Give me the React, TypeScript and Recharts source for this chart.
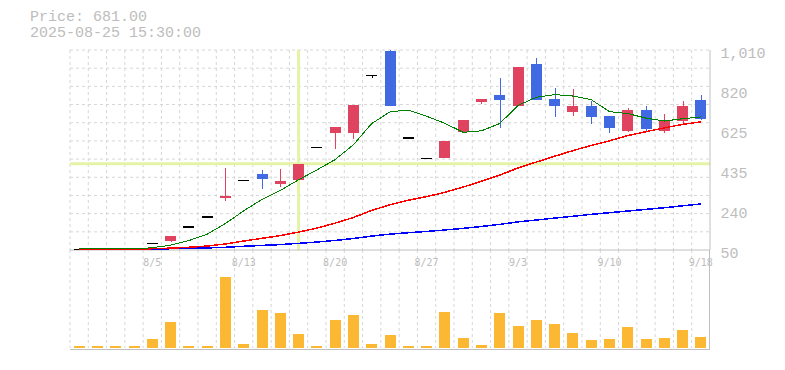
import React from 'react';
import {
  ComposedChart,
  Bar,
  Line,
  XAxis,
  YAxis,
  CartesianGrid,
  ReferenceLine,
} from 'recharts';

// ---- data ----
const dates = ['7/30', '7/31', '8/1', '8/4', '8/5', '8/6', '8/7', '8/8', '8/12', '8/13', '8/14', '8/15', '8/18', '8/19', '8/20', '8/21', '8/22', '8/25', '8/26', '8/27', '8/28', '8/29', '9/1', '9/2', '9/3', '9/4', '9/5', '9/8', '9/9', '9/10', '9/11', '9/12', '9/16', '9/17', '9/18'];
const opens = [55, 55, 55, 54, 84, 95, 164, 213, 302, 388, 413, 365, 384, 545, 610, 610, 892, 1004, 592, 492, 490, 618, 760, 792, 740, 941, 773, 711, 739, 691, 623, 724, 623, 668, 768];
const highs = [55, 55, 55, 55, 84, 115, 164, 213, 445, 388, 435, 440, 464, 545, 642, 744, 892, 1010, 592, 492, 575, 676, 773, 875, 927, 970, 826, 821, 764, 691, 734, 740, 702, 766, 792];
const lows = [55, 55, 55, 54, 84, 90, 164, 213, 287, 388, 345, 352, 384, 545, 533, 581, 875, 740, 592, 492, 490, 610, 753, 634, 740, 769, 687, 692, 655, 610, 615, 615, 612, 657, 676];
const closes = [55, 55, 55, 55, 84, 115, 164, 213, 310, 388, 389, 382, 464, 545, 642, 744, 892, 740, 592, 492, 575, 676, 773, 769, 927, 769, 740, 739, 687, 634, 724, 633, 668, 739, 681];
const ma5 = [55, 55, 55, 55, 61, 73, 95, 126, 177, 238, 293, 336, 387, 434, 484, 555, 657, 713, 722, 692, 658, 615, 622, 657, 744, 783, 796, 789, 772, 714, 705, 683, 669, 680, 689];
const ma25 = [55, 55, 55, 55, 56, 59, 63, 69, 79, 93, 106, 119, 136, 155, 179, 206, 240, 267, 289, 306, 327, 352, 380, 409, 444, 472, 500, 527, 552, 574, 599, 618, 636, 653, 665];
const ma75 = [55, 55, 55, 55, 55, 56, 58, 60, 63, 68, 72, 76, 82, 88, 96, 105, 117, 126, 133, 139, 146, 154, 163, 173, 185, 194, 203, 212, 221, 229, 237, 245, 253, 262, 271];
const volumes = [2, 2, 2, 2, 9, 26, 2, 2, 71, 4, 38, 35, 14, 2, 28, 33, 4, 13, 2, 2, 36, 10, 3, 35, 22, 28, 24, 15, 8, 9, 21, 9, 10, 18, 11];

const xTickLabels = ['8/5', '8/13', '8/20', '8/27', '9/3', '9/10', '9/18'];
const yTickValues = [50, 242, 434, 626, 818, 1010];
const yTickLabels = ['50', '240', '435', '625', '820', '1,010'];
const priceDomain = [50, 1010];
const volumeDomain = [0, 98];
const crosshairIndex = 12;
const crosshairPrice = 464;
const headerLines = ['Price: 681.00', '2025-08-25 15:30:00'];

const rows = dates.map((date, i) => ({
  date,
  open: opens[i],
  high: highs[i],
  low: lows[i],
  close: closes[i],
  ma5: ma5[i],
  ma25: ma25[i],
  ma75: ma75[i],
  volume: volumes[i],
}));

// ---- styles ----
const UP = '#e0435f';
const DOWN = '#4169e1';
const DOJI = '#000000';
const GRID = '#d6d6d6';
const AXIS = '#c0c0c0';
const LABEL = '#bdbdbd';
const CROSS = '#e4f3a6';
const VOL = '#fdb833';
const MONO = '"Liberation Mono", "DejaVu Sans Mono", monospace';

const N = rows.length;
const PRICE_MARGIN = { top: 50, right: 0, left: 70, bottom: 0 };

const vGen = ({ offset }: any) =>
  Array.from({ length: N }, (_, i) => offset.left + (i * offset.width) / N);
const hGen = ({ offset }: any) =>
  Array.from({ length: 11 }, (_, i) => offset.top + (i * offset.height) / 11);

function Candle(props: any) {
  const { x, y, width, height, payload } = props;
  if (payload == null) return null;
  const { open, close, high, low } = payload;
  const top = Math.min(y, y + height);
  const h = Math.abs(height);
  const span = high - low;
  const toY = (v: number) => (span > 0 ? top + ((high - v) / span) * h : top);
  const color = close > open ? UP : close < open ? DOWN : DOJI;
  const cx = Math.round(x + width / 2) + 0.5;
  const bodyTop = toY(Math.max(open, close));
  const bodyBot = toY(Math.min(open, close));
  const bodyH = Math.max(bodyBot - bodyTop, 1.5);
  return (
    <g shapeRendering="crispEdges">
      {h > 0 && (
        <line x1={cx} x2={cx} y1={top} y2={top + h} stroke={color} strokeWidth={1} />
      )}
      <rect x={Math.round(x)} y={bodyTop} width={Math.round(width)} height={bodyH} fill={color} />
    </g>
  );
}

function YTick(props: any) {
  const { y, index } = props;
  return (
    <text
      x={720.5}
      y={y + 4}
      dominantBaseline="central"
      textAnchor="start"
      fill={LABEL}
      fontFamily={MONO}
      fontSize={15}
    >
      {yTickLabels[index]}
    </text>
  );
}

function XTick(props: any) {
  const { x, payload } = props;
  return (
    <text
      x={x}
      y={262.5}
      dominantBaseline="central"
      textAnchor="middle"
      fill={LABEL}
      fontFamily='"DejaVu Sans Mono", monospace'
      fontSize={10}
    >
      {payload.value}
    </text>
  );
}

export default function App() {
  return (
    <div
      style={{
        position: 'fixed',
        left: 0,
        top: 0,
        width: 785,
        height: 370,
        background: '#ffffff',
        overflow: 'hidden',
      }}
    >
      <div
        style={{
          position: 'absolute',
          left: 30,
          top: 10,
          fontFamily: MONO,
          fontSize: 15,
          lineHeight: '16px',
          color: LABEL,
          whiteSpace: 'pre',
        }}
      >
        {headerLines.map((l) => (
          <div key={l}>{l}</div>
        ))}
      </div>

      {/* volume pane */}
      <div style={{ position: 'absolute', left: 0, top: 249 }}>
        <ComposedChart
          width={785}
          height={102}
          data={rows}
          margin={{ top: 1, right: 0, left: 70, bottom: 3 }}
          barCategoryGap="20%"
        >
          <CartesianGrid
            horizontal={false}
            vertical
            stroke={GRID}
            strokeDasharray="3 3"
            verticalCoordinatesGenerator={vGen}
          />
          <XAxis dataKey="date" scale="band" hide />
          <YAxis orientation="right" width={75} domain={volumeDomain} tick={false} axisLine={false} tickLine={false} />
          <Bar dataKey="volume" fill={VOL} isAnimationActive={false} shapeRendering="crispEdges" />
        </ComposedChart>
      </div>
      <div
        style={{
          position: 'absolute',
          left: 70,
          top: 250,
          width: 640,
          height: 100,
          boxSizing: 'border-box',
          borderRight: `1px solid ${AXIS}`,
          borderBottom: `1px solid ${AXIS}`,
        }}
      />

      {/* price pane: underlay with grid, crosshair, axes */}
      <div style={{ position: 'absolute', left: 0, top: 0 }}>
        <ComposedChart width={785} height={270} data={rows} margin={PRICE_MARGIN} barCategoryGap="20%">
          <CartesianGrid
            stroke={GRID}
            strokeDasharray="3 3"
            verticalCoordinatesGenerator={vGen}
            horizontalCoordinatesGenerator={hGen}
          />
          <XAxis
            dataKey="date"
            scale="band"
            height={20}
            axisLine={{ stroke: AXIS }}
            tickLine={false}
            ticks={xTickLabels}
            interval={0}
            tick={<XTick />}
          />
          <YAxis
            orientation="right"
            width={75}
            domain={priceDomain}
            ticks={yTickValues}
            interval={0}
            allowDataOverflow
            axisLine={{ stroke: AXIS }}
            tickLine={false}
            tick={<YTick />}
          />
          <ReferenceLine x={dates[crosshairIndex]} stroke={CROSS} strokeWidth={3} />
          <ReferenceLine y={crosshairPrice} stroke={CROSS} strokeWidth={3} />
        </ComposedChart>
      </div>

      {/* price pane: overlay with moving averages and candles */}
      <div style={{ position: 'absolute', left: 0, top: 0 }}>
        <ComposedChart width={785} height={270} data={rows} margin={PRICE_MARGIN} barCategoryGap="20%">
          <XAxis dataKey="date" scale="band" height={20} axisLine={false} tickLine={false} tick={false} />
          <YAxis
            orientation="right"
            width={75}
            domain={priceDomain}
            ticks={yTickValues}
            allowDataOverflow
            axisLine={false}
            tickLine={false}
            tick={false}
          />
          <Line dataKey="ma75" type="linear" stroke="#0000ff" strokeWidth={1.5} dot={false} isAnimationActive={false} shapeRendering="crispEdges" />
          <Line dataKey="ma25" type="linear" stroke="#ff0000" strokeWidth={1.5} dot={false} isAnimationActive={false} shapeRendering="crispEdges" />
          <Line dataKey="ma5" type="linear" stroke="#008000" strokeWidth={1} dot={false} isAnimationActive={false} shapeRendering="crispEdges" />
          <Bar dataKey={(d: any) => [d.low, d.high]} shape={<Candle />} isAnimationActive={false} />
        </ComposedChart>
      </div>
    </div>
  );
}
